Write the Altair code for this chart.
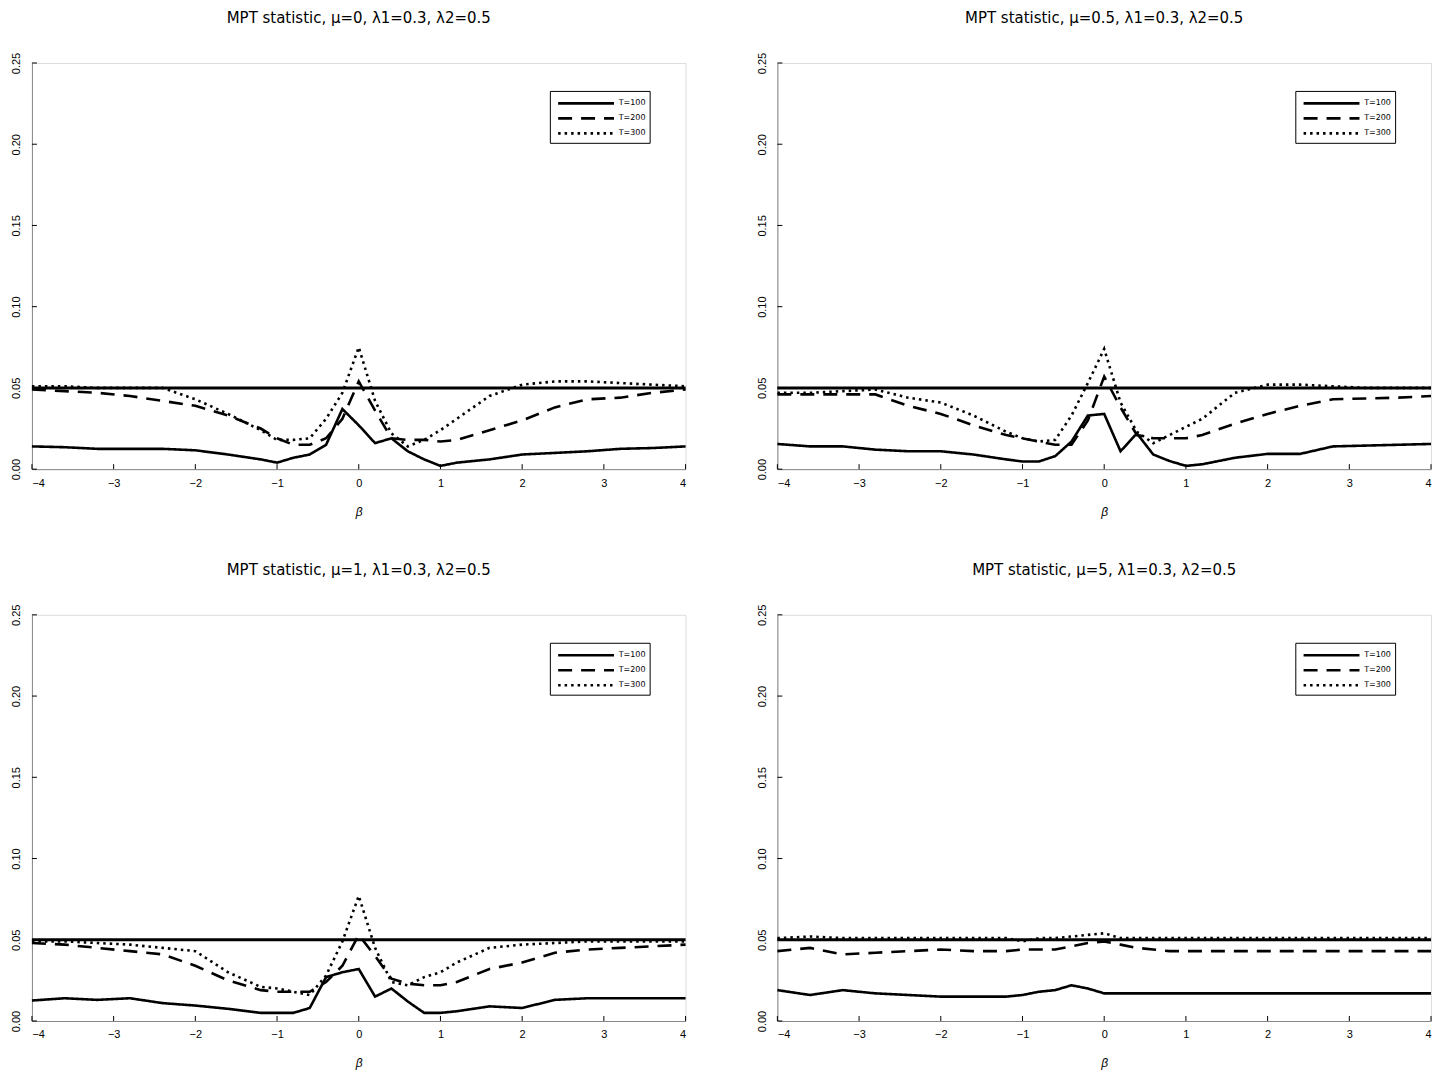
import altair as alt
import pandas as pd

# Grid of beta values at which the rejection rates were computed
BETA = [-4, -3.6, -3.2, -2.8, -2.4, -2, -1.6, -1.2, -1, -0.8, -0.6, -0.4, -0.2,
        0, 0.2, 0.4, 0.6, 0.8, 1, 1.2, 1.6, 2, 2.4, 2.8, 3.2, 3.6, 4]

SERIES = ["T=100", "T=200", "T=300"]
XTICKS = [-4, -3, -2, -1, 0, 1, 2, 3, 4]
YTICKS = [0.0, 0.05, 0.10, 0.15, 0.20, 0.25]
NOMINAL = 0.05

# mu = 0
MU0_T100 = [0.014, 0.0135, 0.0125, 0.0125, 0.0125, 0.0116, 0.009, 0.006, 0.004, 0.007, 0.009, 0.015, 0.037,
            0.027, 0.016, 0.019, 0.011, 0.006, 0.002, 0.004, 0.006, 0.009, 0.010, 0.011, 0.0125, 0.013, 0.014]
MU0_T200 = [0.049, 0.048, 0.047, 0.045, 0.042, 0.039, 0.033, 0.025, 0.019, 0.015, 0.015, 0.019, 0.031,
            0.054, 0.036, 0.019, 0.018, 0.018, 0.017, 0.018, 0.024, 0.030, 0.038, 0.043, 0.044, 0.047, 0.049]
MU0_T300 = [0.051, 0.051, 0.050, 0.050, 0.050, 0.043, 0.034, 0.024, 0.018, 0.018, 0.019, 0.031, 0.047,
            0.075, 0.042, 0.022, 0.014, 0.018, 0.024, 0.031, 0.045, 0.052, 0.054, 0.054, 0.053, 0.052, 0.051]

# mu = 0.5
MU05_T100 = [0.0155, 0.014, 0.014, 0.012, 0.011, 0.011, 0.009, 0.006, 0.0047, 0.0047, 0.008, 0.017, 0.033,
             0.034, 0.011, 0.022, 0.009, 0.005, 0.002, 0.003, 0.007, 0.0094, 0.0094, 0.014, 0.0145, 0.015, 0.0155]
MU05_T200 = [0.046, 0.046, 0.046, 0.046, 0.039, 0.034, 0.027, 0.021, 0.019, 0.017, 0.015, 0.015, 0.030,
             0.057, 0.038, 0.021, 0.019, 0.019, 0.019, 0.021, 0.028, 0.034, 0.039, 0.043, 0.0435, 0.044, 0.045]
MU05_T300 = [0.047, 0.047, 0.048, 0.049, 0.044, 0.041, 0.033, 0.023, 0.019, 0.017, 0.018, 0.033, 0.053,
             0.074, 0.041, 0.023, 0.016, 0.021, 0.026, 0.031, 0.047, 0.052, 0.052, 0.051, 0.050, 0.050, 0.050]

# mu = 1
MU1_T100 = [0.0126, 0.014, 0.013, 0.014, 0.011, 0.0095, 0.0075, 0.005, 0.005, 0.005, 0.008, 0.027, 0.030,
            0.032, 0.015, 0.020, 0.012, 0.005, 0.005, 0.006, 0.009, 0.008, 0.013, 0.014, 0.014, 0.014, 0.014]
MU1_T200 = [0.048, 0.047, 0.045, 0.043, 0.041, 0.034, 0.025, 0.019, 0.018, 0.018, 0.018, 0.024, 0.034,
            0.053, 0.040, 0.026, 0.023, 0.022, 0.022, 0.024, 0.032, 0.036, 0.042, 0.044, 0.045, 0.046, 0.047]
MU1_T300 = [0.049, 0.049, 0.048, 0.047, 0.045, 0.043, 0.030, 0.021, 0.020, 0.018, 0.016, 0.028, 0.049,
            0.077, 0.045, 0.024, 0.022, 0.027, 0.030, 0.036, 0.045, 0.047, 0.048, 0.049, 0.049, 0.049, 0.049]

# mu = 5
MU5_T100 = [0.019, 0.016, 0.019, 0.017, 0.016, 0.015, 0.015, 0.015, 0.016, 0.018, 0.019, 0.022, 0.020,
            0.017, 0.017, 0.017, 0.017, 0.017, 0.017, 0.017, 0.017, 0.017, 0.017, 0.017, 0.017, 0.017, 0.017]
MU5_T200 = [0.043, 0.045, 0.041, 0.042, 0.043, 0.044, 0.043, 0.043, 0.044, 0.044, 0.044, 0.046, 0.048,
            0.049, 0.047, 0.045, 0.044, 0.043, 0.043, 0.043, 0.043, 0.043, 0.043, 0.043, 0.043, 0.043, 0.043]
MU5_T300 = [0.051, 0.052, 0.051, 0.051, 0.051, 0.051, 0.051, 0.051, 0.049, 0.051, 0.051, 0.052, 0.053,
            0.054, 0.051, 0.051, 0.051, 0.051, 0.051, 0.051, 0.051, 0.051, 0.051, 0.051, 0.051, 0.051, 0.051]

PANELS = [
    ("0", MU0_T100, MU0_T200, MU0_T300),
    ("0.5", MU05_T100, MU05_T200, MU05_T300),
    ("1", MU1_T100, MU1_T200, MU1_T300),
    ("5", MU5_T100, MU5_T200, MU5_T300),
]

W, H = 655, 407
FONT = "DejaVu Sans"
# long horizontal stroke used as the legend sample
LEGEND_STROKE = "M-0.6,0H7.4"


def panel(mu, t100, t200, t300):
    rows = []
    for name, vals in zip(SERIES, (t100, t200, t300)):
        for b, v in zip(BETA, vals):
            rows.append({"beta": b, "rate": v, "series": name})
    df = pd.DataFrame(rows)

    xscale = alt.Scale(domain=[-4, 4], nice=False, zero=False)
    yscale = alt.Scale(domain=[0, 0.25], nice=False)

    x = alt.X("beta:Q", scale=xscale,
              axis=alt.Axis(values=XTICKS, format="d", ticks=False, grid=False, title="β",
                            titleFontStyle="italic", titleFontWeight="normal",
                            titleFontSize=12, titlePadding=18, labelPadding=8,
                            labelFontSize=11))
    y = alt.Y("rate:Q", scale=yscale,
              axis=alt.Axis(values=YTICKS, format=".2f", ticks=False, grid=False,
                            title=None, labelAngle=270, labelAlign="center",
                            labelBaseline="bottom", labelPadding=10, labelFontSize=11))

    lines = alt.Chart(df).mark_line(color="black", strokeWidth=2.6, strokeCap="butt").encode(
        x=x, y=y,
        strokeDash=alt.StrokeDash(
            "series:N",
            scale=alt.Scale(domain=SERIES, range=[[1, 0], [14, 9], [2.5, 4]]),
            legend=alt.Legend(orient="none", legendX=519, legendY=28, title=None,
                              strokeColor="black", fillColor="white", padding=4,
                              symbolType=LEGEND_STROKE, symbolSize=196,
                              symbolStrokeWidth=2.6, symbolStrokeColor="black",
                              labelFontSize=8, labelFont=FONT, rowPadding=1,
                              labelOffset=48),
        ),
        order=alt.Order("beta:Q"),
    )

    level = alt.Chart(pd.DataFrame({"rate": [NOMINAL]})).mark_rule(
        color="black", strokeWidth=3).encode(y=alt.Y("rate:Q", scale=yscale))

    xt = alt.Chart(pd.DataFrame({"beta": XTICKS})).mark_rule(color="black", strokeWidth=1).encode(
        x=alt.X("beta:Q", scale=xscale), y=alt.value(H), y2=alt.value(H - 5))
    yt = alt.Chart(pd.DataFrame({"rate": YTICKS})).mark_rule(color="black", strokeWidth=1).encode(
        y=alt.Y("rate:Q", scale=yscale), x=alt.value(0), x2=alt.value(5))

    title = alt.TitleParams(f"MPT statistic, μ={mu}, λ1=0.3, λ2=0.5", fontSize=15,
                            font=FONT, fontWeight="normal", offset=26, anchor="middle")
    return alt.layer(lines, level, xt, yt).properties(width=W, height=H, title=title)


def row(a, b):
    return alt.hconcat(a, b, spacing=64).resolve_scale(
        strokeDash="independent").resolve_legend(strokeDash="independent")


charts = [panel(*p) for p in PANELS]
chart = alt.vconcat(row(charts[0], charts[1]), row(charts[2], charts[3]), spacing=44).resolve_scale(
    strokeDash="independent").resolve_legend(strokeDash="independent").properties(
    padding={"left": 10, "top": 9, "right": 5, "bottom": 5}
).configure_view(stroke=None).configure_axis(
    domainColor="black", domainWidth=1, labelColor="black", titleColor="black",
    labelFont=FONT, titleFont=FONT
).configure(background="white")

chart.save("out.html", embed_options={"renderer": "svg", "actions": False})
